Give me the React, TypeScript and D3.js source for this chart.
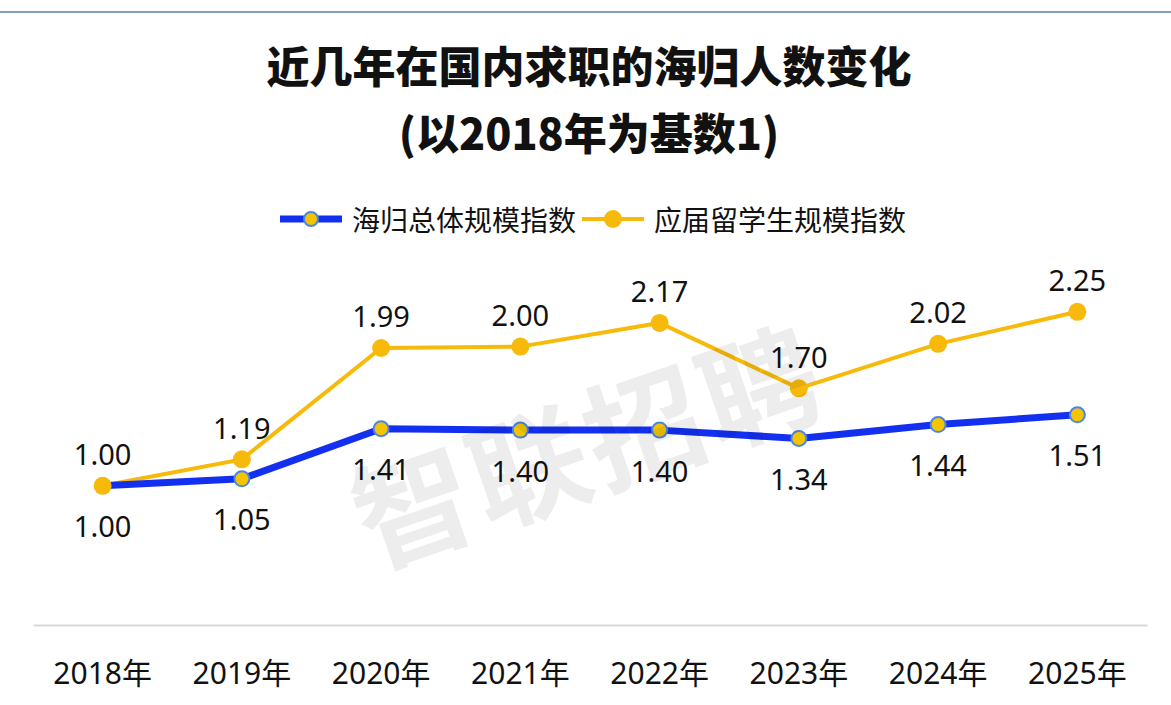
import { useEffect, useRef } from "react";
import * as d3 from "d3";

// categories and series
const years = ["2018年", "2019年", "2020年", "2021年", "2022年", "2023年", "2024年", "2025年"];
const totalIndex = [1.0, 1.05, 1.41, 1.4, 1.4, 1.34, 1.44, 1.51];
const freshIndex = [1.0, 1.19, 1.99, 2.0, 2.17, 1.7, 2.02, 2.25];
const seriesNames = ["海归总体规模指数", "应届留学生规模指数"];
const titleLines = ["近几年在国内求职的海归人数变化", "(以2018年为基数1)"];

const BLUE = "#1330F0";
const GOLD = "#F7BA0B";
const NUM_FONT = "'Noto Sans', 'Noto Sans CJK SC', sans-serif";
const CJK_FONT = "'Noto Sans CJK SC', 'Noto Sans', sans-serif";

export default function App() {
  const ref = useRef(null);

  useEffect(() => {
    if (ref.current) {
      ref.current.innerHTML = "";
    }
    const width = 1171,
      height = 705;

    const svg = d3
      .select(ref.current)
      .append("svg")
      .attr("width", width)
      .attr("height", height)
      .style("position", "absolute")
      .style("left", 0)
      .style("top", 0)
      .style("background", "#fff");

    // thin rule at the very top
    svg.append("line")
      .attr("x1", 0).attr("x2", width)
      .attr("y1", 12).attr("y2", 12)
      .attr("stroke", "#5b84b1")
      .attr("stroke-width", 1.5);

    // title
    svg.append("g")
      .selectAll("text")
      .data(titleLines)
      .join("text")
      .attr("x", 589)
      .attr("y", (d, i) => 64 + i * 67)
      .attr("text-anchor", "middle")
      .attr("dominant-baseline", "central")
      .attr("font-family", CJK_FONT)
      .attr("font-weight", 900)
      .attr("font-size", 43)
      .attr("fill", "#111")
      .text(d => d);

    // scales
    const x = d3.scaleBand().domain(years).range([33, 1147]);
    const cx = d => x(d) + x.bandwidth() / 2;
    const y = d3.scaleLinear().domain([0, 2.5]).range([625, 277]);

    // x axis
    const axis = svg.append("g")
      .attr("transform", "translate(0,625)")
      .call(d3.axisBottom(x).tickSize(0).tickPadding(47));
    axis.select(".domain").attr("stroke", "#d9d9d9").attr("stroke-width", 2);
    axis.selectAll("text")
      .attr("font-family", NUM_FONT)
      .attr("font-size", 30)
      .attr("fill", "#111")
      .attr("dy", "0")
      .attr("dominant-baseline", "central");

    // legend
    const legend = svg.append("g").attr("transform", "translate(0,219)");
    const legendItems = [
      { name: seriesNames[0], x0: 280, color: BLUE, sw: 7, r: 7, fill: "#F5C400", stroke: "#4A86E8" },
      { name: seriesNames[1], x0: 582, color: GOLD, sw: 4, r: 9, fill: GOLD, stroke: "none" },
    ];
    legendItems.forEach(it => {
      legend.append("line")
        .attr("x1", it.x0).attr("x2", it.x0 + 62)
        .attr("stroke", it.color).attr("stroke-width", it.sw);
      legend.append("circle")
        .attr("cx", it.x0 + 31).attr("r", it.r)
        .attr("fill", it.fill).attr("stroke", it.stroke).attr("stroke-width", 2);
      legend.append("text")
        .attr("x", it.x0 + 72)
        .attr("dominant-baseline", "central")
        .attr("font-family", CJK_FONT)
        .attr("font-size", 28)
        .attr("fill", "#111")
        .text(it.name);
    });

    const line = d3.line().x((d, i) => cx(years[i])).y(d => y(d));

    // fresh graduates series (gold)
    svg.append("path")
      .datum(freshIndex)
      .attr("fill", "none")
      .attr("stroke", GOLD)
      .attr("stroke-width", 4)
      .attr("d", line);

    // total series (blue)
    svg.append("path")
      .datum(totalIndex)
      .attr("fill", "none")
      .attr("stroke", BLUE)
      .attr("stroke-width", 7)
      .attr("stroke-linejoin", "round")
      .attr("d", line);

    svg.append("g")
      .selectAll("circle")
      .data(totalIndex)
      .join("circle")
      .attr("cx", (d, i) => cx(years[i]))
      .attr("cy", d => y(d))
      .attr("r", 7.5)
      .attr("fill", "#F5C400")
      .attr("stroke", "#4A86E8")
      .attr("stroke-width", 2);

    svg.append("g")
      .selectAll("circle")
      .data(freshIndex)
      .join("circle")
      .attr("cx", (d, i) => cx(years[i]))
      .attr("cy", d => y(d))
      .attr("r", 9)
      .attr("fill", GOLD);

    // value labels
    svg.append("g")
      .selectAll("text")
      .data(freshIndex)
      .join("text")
      .attr("x", (d, i) => cx(years[i]))
      .attr("y", d => y(d) - 32)
      .attr("text-anchor", "middle")
      .attr("dominant-baseline", "central")
      .attr("font-family", NUM_FONT)
      .attr("font-size", 29)
      .attr("fill", "#111")
      .text(d => d.toFixed(2));

    svg.append("g")
      .selectAll("text")
      .data(totalIndex)
      .join("text")
      .attr("x", (d, i) => cx(years[i]))
      .attr("y", d => y(d) + 40)
      .attr("text-anchor", "middle")
      .attr("dominant-baseline", "central")
      .attr("font-family", NUM_FONT)
      .attr("font-size", 29)
      .attr("fill", "#111")
      .text(d => d.toFixed(2));

    // watermark
    svg.append("text")
      .attr("transform", "translate(586,440) rotate(-19)")
      .attr("text-anchor", "middle")
      .attr("dominant-baseline", "central")
      .attr("font-family", CJK_FONT)
      .attr("font-weight", 700)
      .attr("font-size", 118)
      .attr("fill", "#000")
      .attr("fill-opacity", 0.07)
      .attr("letter-spacing", 4)
      .text("智联招聘");
  });

  return <div ref={ref}></div>;
}
